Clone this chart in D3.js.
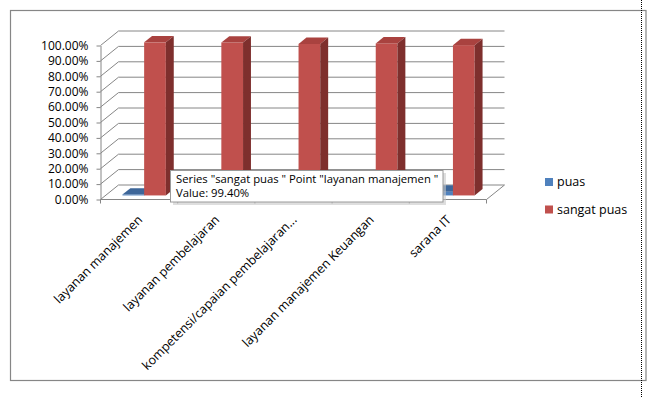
<!DOCTYPE html>
<html>
<head>
<meta charset="utf-8">
<script src="https://cdn.jsdelivr.net/npm/d3@7"></script>
<style>
  html, body { margin: 0; padding: 0; background: #fff; }
  svg { display: block; }
  text { font-family: "Open Sans", sans-serif; fill: #000; }
</style>
</head>
<body>
<div id="chart"></div>
<script>
const categories = [
    "layanan manajemen",
    "layanan pembelajaran",
    "kompetensi/capaian pembelajaran...",
    "layanan manajemen Keuangan",
    "sarana IT"
];
const puas = [0.006, 0.007, 0.016, 0.013, 0.024];
const sangatPuas = [0.994, 0.993, 0.984, 0.987, 0.976];
const yTicks = [0, 0.1, 0.2, 0.3, 0.4, 0.5, 0.6, 0.7, 0.8, 0.9, 1.0];
const seriesNames = ["puas", "sangat puas"];

const width = 662, height = 398;

// 3d look: offset from front plane to back wall
const DX = 18, DY = -14.5;
const f0 = 0.28, f1 = 0.72;   // bar front / back depth fraction
const barW = 21.7;

const colors = {
    puas: { front: "#4F81BD", top: "#3D6699", side: "#2F5079" },
    "sangat puas": { front: "#C0504D", top: "#A9423F", side: "#7E2F2D" }
};

const svg = d3.select("#chart").append("svg")
    .attr("width", width)
    .attr("height", height);

svg.append("rect").attr("width", width).attr("height", height).attr("fill", "#fff");

// outer frame
svg.append("rect")
    .attr("x", 10.5).attr("y", 10.5)
    .attr("width", 635.5).attr("height", 370)
    .attr("fill", "none")
    .attr("stroke", "#868686")
    .attr("stroke-width", 1.2);

const x = d3.scaleBand().domain(categories).range([100.5, 486.5]);
const y = d3.scaleLinear().domain([0, 1]).range([199.5, 45.5]);

const gridColor = "#868686";
const x0 = x.range()[0], x1 = x.range()[1];

// back wall gridlines + side wall diagonals
const grid = svg.append("g").attr("stroke", gridColor).attr("stroke-width", 1).attr("fill", "none");
yTicks.forEach(t => {
    grid.append("line")
        .attr("x1", x0 + DX).attr("x2", x1 + DX)
        .attr("y1", y(t) + DY).attr("y2", y(t) + DY);
    grid.append("line")
        .attr("x1", x0).attr("x2", x0 + DX)
        .attr("y1", y(t)).attr("y2", y(t) + DY);
});

// floor front edge and right edge
grid.append("line")
    .attr("x1", x0).attr("x2", x1)
    .attr("y1", y(0)).attr("y2", y(0));
grid.append("line")
    .attr("x1", x1).attr("x2", x1 + DX)
    .attr("y1", y(0)).attr("y2", y(0) + DY);

// category boundary ticks
const bounds = categories.map(c => x(c)).concat([x1]);
bounds.forEach(b => {
    grid.append("line")
        .attr("x1", b).attr("x2", b)
        .attr("y1", y(0)).attr("y2", y(0) + 4);
});

// y axis
const yAxis = d3.axisLeft(y)
    .tickValues(yTicks)
    .tickFormat(d3.format(".2%"))
    .tickSize(4)
    .tickSizeOuter(0)
    .tickPadding(8);

const yg = svg.append("g").attr("transform", `translate(${x0},0)`).call(yAxis);
yg.select(".domain").attr("stroke", gridColor);
yg.selectAll(".tick line").attr("stroke", gridColor);
yg.selectAll(".tick text")
    .attr("font-size", 12)
    .attr("font-family", "Liberation Sans, Arial, sans-serif")
    .attr("fill", "#000");

// bars
function drawBar(g, xl, v, c) {
    const px = xl + DX * f0;
    const base = y(0) + DY * f0;
    const top = y(v) + DY * f0;
    const ddx = DX * (f1 - f0), ddy = DY * (f1 - f0);
    g.append("rect")
        .attr("x", px).attr("y", top)
        .attr("width", barW).attr("height", Math.max(0, base - top))
        .attr("fill", c.front);
    g.append("polygon")
        .attr("points", [[px, top], [px + barW, top], [px + barW + ddx, top + ddy], [px + ddx, top + ddy]].join(" "))
        .attr("fill", c.top);
    g.append("polygon")
        .attr("points", [[px + barW, top], [px + barW + ddx, top + ddy], [px + barW + ddx, base + ddy], [px + barW, base]].join(" "))
        .attr("fill", c.side);
}

const bars = svg.append("g");
categories.forEach((cat, i) => {
    const cx = x(cat) + x.bandwidth() / 2;
    drawBar(bars, cx - barW, puas[i], colors.puas);
    drawBar(bars, cx, sangatPuas[i], colors["sangat puas"]);
});

// category labels
svg.append("g").selectAll("text")
    .data(categories)
    .join("text")
    .attr("transform", d => `translate(${x(d) + x.bandwidth() / 2 + 4},${y(0) + 21}) rotate(-45)`)
    .attr("text-anchor", "end")
    .attr("font-size", 12.5)
    .text(d => d);

// legend
const legend = svg.append("g");
seriesNames.forEach((s, i) => {
    const ly = 182 + i * 27.5;
    legend.append("rect")
        .attr("x", 545).attr("y", ly - 4)
        .attr("width", 8).attr("height", 8)
        .attr("fill", colors[s].front);
    legend.append("text")
        .attr("x", 557).attr("y", ly)
        .attr("dy", "0.35em")
        .attr("font-size", 12.5)
        .text(s);
});

// hover tooltip
const tip = svg.append("g");
tip.append("rect")
    .attr("x", 173).attr("y", 173)
    .attr("width", 273).attr("height", 32)
    .attr("fill", "#c8c8c8")
    .attr("opacity", 0.6);
tip.append("rect")
    .attr("x", 170.5).attr("y", 170.5)
    .attr("width", 272.5).attr("height", 31.5)
    .attr("fill", "#fff")
    .attr("stroke", "#9a9a9a");
tip.append("text")
    .attr("x", 176).attr("y", 182.5)
    .attr("font-size", 11.3)
    .attr("fill", "#4d4d4d")
    .text(`Series "${seriesNames[1]} " Point "${categories[0]} "`);
tip.append("text")
    .attr("x", 176).attr("y", 197)
    .attr("font-size", 11.3)
    .attr("fill", "#4d4d4d")
    .text(`Value: ${d3.format(".2%")(sangatPuas[0])}`);

// dotted page edge
svg.append("line")
    .attr("x1", 641.5).attr("x2", 641.5)
    .attr("y1", 0).attr("y2", height)
    .attr("stroke", "#000")
    .attr("stroke-dasharray", "1,1");
</script>
</body>
</html>
